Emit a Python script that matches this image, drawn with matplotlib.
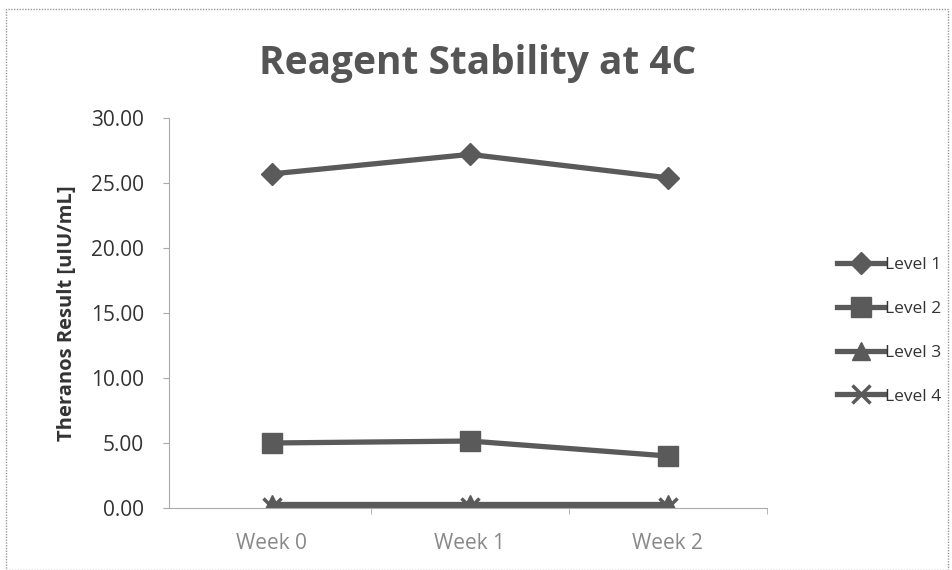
import numpy as np
import matplotlib.pyplot as plt
from matplotlib.patches import Rectangle

weeks = ['Week 0', 'Week 1', 'Week 2']
level1 = [25.7, 27.2, 25.4]
level2 = [5.0, 5.15, 4.0]
level3 = [0.3, 0.3, 0.3]
level4 = [0.1, 0.1, 0.1]
labels = ['Level 1', 'Level 2', 'Level 3', 'Level 4']
markers = ['D', 's', '^', 'x']
markersizes = [11, 14, 13, 13]

plt.rcParams['font.family'] = ['Open Sans', 'DejaVu Sans']

fig = plt.figure(figsize=(9.52, 5.7), dpi=100)
ax = fig.add_axes([0.1775, 0.1088, 0.628, 0.6842])

x = np.arange(len(weeks))
lineColor = '#5a5a5a'
for y, lab, m, ms in zip([level1, level2, level3, level4], labels, markers, markersizes):
    ax.plot(x, y, marker=m, markersize=ms, linewidth=3.8, color=lineColor,
            markeredgewidth=2.5 if m == 'x' else 1, label=lab)

ax.set_xlim(-0.52, 2.5)
ax.set_ylim(0, 30)
ax.set_yticks(np.arange(0, 30.01, 5))
ax.set_yticklabels(['%.2f' % v for v in np.arange(0, 30.01, 5)], fontsize=15, color='#333333')
ax.set_xticks(x)
ax.set_xticklabels(weeks, fontsize=15, color='#888888')
ax.set_xticks([0.5, 1.5, 2.5], minor=True)
ax.tick_params(axis='x', which='major', length=0, pad=18)
ax.tick_params(axis='x', which='minor', length=4, color='#aaaaaa', direction='out')
ax.tick_params(axis='y', length=4, color='#aaaaaa', direction='out', pad=14)

for s in ['top', 'right']:
    ax.spines[s].set_visible(False)
for s in ['left', 'bottom']:
    ax.spines[s].set_color('#aaaaaa')
    ax.spines[s].set_linestyle((0, (1, 1)))

ax.set_ylabel('Theranos Result [uIU/mL]', fontsize=14.5, fontweight='bold', color='#333333', labelpad=10)
fig.text(0.502, 0.888, 'Reagent Stability at 4C', ha='center', va='center', fontsize=28,
         fontweight='bold', color='#555555')

ax.legend(loc='center left', bbox_to_anchor=(1.092, 0.455), frameon=False, fontsize=12.5,
          handlelength=2.7, labelspacing=1.6, handletextpad=0.05, labelcolor='#333333')

fig.patches.append(Rectangle((0.006, 0.0), 0.99, 0.985, transform=fig.transFigure, fill=False,
                             edgecolor='#999999', linewidth=1, linestyle=(0, (1, 1))))

plt.savefig('out.png', dpi=100)
